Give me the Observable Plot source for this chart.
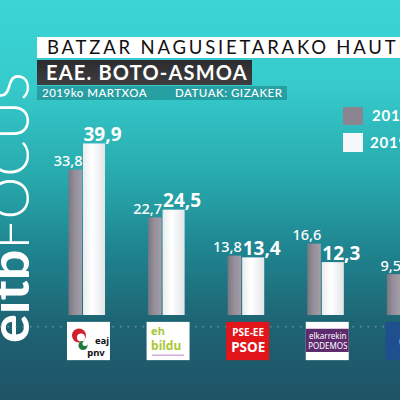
<!DOCTYPE html>
<html><head><meta charset="utf-8">
<script src="https://cdn.jsdelivr.net/npm/d3@7"></script>
<script src="https://cdn.jsdelivr.net/npm/@observablehq/plot@0.6"></script>
<style>
html,body{margin:0;padding:0;width:400px;height:400px;overflow:hidden;background:#1f5a6a;}
#wrap{position:relative;width:400px;height:400px;overflow:hidden;
  background:linear-gradient(180deg,#3bd5d5 0%,#36cacb 22%,#27a8ac 45%,#1f8590 62%,#1e6574 80%,#1d5265 100%);
  font-family:Lato,"Open Sans",sans-serif;}
#chart{position:absolute;left:0;top:0;}
.t1{position:absolute;left:37px;top:37px;width:380px;height:21px;background:#fff;color:#111;
  font-size:18.5px;line-height:21px;letter-spacing:2.8px;padding-left:10px;white-space:nowrap;overflow:hidden;box-sizing:border-box;}
.t2{position:absolute;left:37px;top:60px;width:215px;height:25px;background:linear-gradient(180deg,#2c2c2e,#3e3e40);color:#fff;
  font-size:20px;font-weight:bold;line-height:25px;letter-spacing:1.2px;padding-left:9px;box-sizing:border-box;white-space:nowrap;}
.t3{position:absolute;left:37px;top:86px;width:250px;height:14px;background:rgba(25,125,132,0.55);color:#fff;
  font-size:11.5px;line-height:14px;letter-spacing:0.5px;white-space:nowrap;font-weight:500;}
.t3 span{position:absolute;top:0;}
.leg{position:absolute;left:343px;width:20px;height:18px;}
.legt{position:absolute;color:#fff;font-weight:bold;font-size:15px;letter-spacing:0.8px;}
</style></head>
<body>
<div id="wrap">
  <div id="chart"></div>
  <div class="t1" id="title"></div>
  <div class="t2" id="subtitle"></div>
  <div class="t3"><span id="date" style="left:5px"></span><span id="source" style="left:138px"></span></div>
  <div class="leg" style="top:107px;background:#8a8591"></div>
  <div class="legt" style="left:372px;top:106px" id="l0"></div>
  <div class="leg" style="top:133px;background:#f6f7f8;height:19px"></div>
  <div class="legt" style="left:370px;top:133px" id="l1"></div>
</div>
<script>
const titleText = "BATZAR NAGUSIETARAKO HAUTESKUNDEAK";
const subtitleText = "EAE. BOTO-ASMOA";
const dateText = "2019ko MARTXOA";
const sourceText = "DATUAK: GIZAKER";
const years = ["2015", "2019"];
const parties = ["EAJ-PNV", "EH Bildu", "PSE-EE", "Elkarrekin Podemos", "PP"];
const votes2015 = [33.8, 22.7, 13.8, 16.6, 9.5];
const votes2019 = [39.9, 24.5, 13.4, 12.3, null];

document.getElementById("title").textContent = titleText;
document.getElementById("subtitle").textContent = subtitleText;
document.getElementById("date").textContent = dateText;
document.getElementById("source").textContent = sourceText;
document.getElementById("l0").textContent = years[0];
document.getElementById("l1").textContent = years[1];

const fmt = v => v.toFixed(1).replace(".", ",");
const rows15 = parties.map((p, i) => ({party: p, i, value: votes2015[i]})).filter(d => d.value != null);
const rows19 = parties.map((p, i) => ({party: p, i, value: votes2019[i]})).filter(d => d.value != null);
const logos = parties.map((p, i) => ({party: p, i}));
const only = name => logos.filter(d => d.party === name);

// logo box vertical extent (in y units, below baseline)
const LT = -1.6, LB = -10.5, LM = (LT + LB) / 2;
const lx1 = d => d.i + 0.075 - 0.27, lx2 = d => d.i + 0.075 + 0.27, lc = d => d.i + 0.075;

const plot = Plot.plot({
  width: 400, height: 400,
  marginLeft: 0, marginRight: 0, marginTop: 0, marginBottom: 0,
  x: {domain: [0, 4], range: [82.5, 400.9], axis: null},
  y: {domain: [0, 50], range: [315, 100], axis: null},
  style: {background: "transparent", overflow: "hidden"},
  marks: [
    Plot.ruleY([-2.6], {stroke: "#9fc7cc", strokeOpacity: 0.5, strokeDasharray: "1.5,6", strokeWidth: 1.5}),
    Plot.rect(rows15, {x1: d => d.i - 0.176, x2: d => d.i - 0.006, y1: 0, y2: "value", fill: "url(#gGray)"}),
    Plot.rect(rows19, {x1: d => d.i + 0.006, x2: d => d.i + 0.283, y1: 0, y2: "value", fill: "url(#gWhite)"}),
    Plot.text(rows15, {x: d => d.i - 0.006, y: "value", text: d => fmt(d.value), textAnchor: "end", lineAnchor: "bottom", dy: -4, fill: "#fff", fontSize: 14.5, fontWeight: 500}),
    Plot.text(rows19, {x: d => d.i + 0.006, y: "value", text: d => fmt(d.value), textAnchor: "start", lineAnchor: "bottom", dy: -3, fill: "#fff", fontSize: 19, fontWeight: "bold"}),
    // logo backgrounds
    Plot.rect(logos, {x1: lx1, x2: lx2, y1: LT, y2: LB, fill: d => ({"PSE-EE": "#e2151b", "PP": "#1f4f8f"})[d.party] || "#ffffff"}),
    // podemos band
    Plot.rect(only("Elkarrekin Podemos"), {x1: lx1, x2: lx2, y1: LT - 1.6, y2: LB + 1.9, fill: "#5e2a6e"}),
    // PNV swirl approximation
    Plot.dot(only("EAJ-PNV"), {x: lc, y: LM, dx: -10, dy: -6, r: 7, fill: "#d0202a"}),
    Plot.dot(only("EAJ-PNV"), {x: lc, y: LM, dx: -8, dy: -4, r: 4, fill: "#ffffff"}),
    Plot.dot(only("EAJ-PNV"), {x: lc, y: LM, dx: -6, dy: 4, r: 4.5, fill: "#1e7a3c"}),
    Plot.dot(only("EAJ-PNV"), {x: lc, y: LM, dx: -4, dy: 2, r: 2.5, fill: "#ffffff"}),
    Plot.text(only("EAJ-PNV"), {x: lc, y: LM, dx: 13, dy: -1, text: () => "eaj", fill: "#111", fontSize: 9.5, fontWeight: "bold"}),
    Plot.text(only("EAJ-PNV"), {x: lc, y: LM, dx: 7, dy: 11, text: () => "pnv", fill: "#111", fontSize: 9.5, fontWeight: "bold"}),
    Plot.text(only("EH Bildu"), {x: lx1, y: LM, dx: 4, dy: -10, text: () => "eh", fill: "#a9c83a", fontSize: 11, fontWeight: "bold", textAnchor: "start"}),
    Plot.text(only("EH Bildu"), {x: lx1, y: LM, dx: 4, dy: 5, text: () => "bildu", fill: "#a9c83a", fontSize: 12, fontWeight: "bold", textAnchor: "start"}),
    Plot.rect(only("EH Bildu"), {x1: d => lc(d) - 0.2, x2: d => lc(d) + 0.2, y1: LB + 1.3, y2: LB + 1.0, fill: "#c9a0d8"}),
    Plot.text(only("PSE-EE"), {x: lc, y: LM, dy: -9, text: () => "PSE-EE", fill: "#fff", fontSize: 10, fontWeight: "bold"}),
    Plot.text(only("PSE-EE"), {x: lc, y: LM, dy: 6, text: () => "PSOE", fill: "#fff", fontSize: 13.5, fontWeight: "bold"}),
    Plot.text(only("Elkarrekin Podemos"), {x: lc, y: LM, dy: -5, text: () => "elkarrekin", fill: "#fff", fontSize: 8}),
    Plot.text(only("Elkarrekin Podemos"), {x: lc, y: LM, dy: 5, text: () => "PODEMOS", fill: "#fff", fontSize: 8}),
    Plot.text(only("PP"), {x: lc, y: LM, dx: -8, text: () => "(pp", fill: "#fff", fontSize: 10, fontWeight: "bold", textAnchor: "start"})
  ]
});
// gradients for cylinder-like bars
const svg = d3.select(plot);
const defs = svg.insert("defs", ":first-child");
const gg = defs.append("linearGradient").attr("id", "gGray").attr("x1", 0).attr("x2", 1).attr("y1", 0).attr("y2", 0);
gg.append("stop").attr("offset", "0%").attr("stop-color", "#7a7680");
gg.append("stop").attr("offset", "45%").attr("stop-color", "#948f9a");
gg.append("stop").attr("offset", "100%").attr("stop-color", "#a29ea7");
const gw = defs.append("linearGradient").attr("id", "gWhite").attr("x1", 0).attr("x2", 1).attr("y1", 0).attr("y2", 0);
gw.append("stop").attr("offset", "0%").attr("stop-color", "#e9ecee");
gw.append("stop").attr("offset", "40%").attr("stop-color", "#ffffff");
gw.append("stop").attr("offset", "100%").attr("stop-color", "#e2e5e8");
// eitb FOCUS brand, vertical
const brand = svg.insert("text", "g").attr("transform", "translate(29,343) rotate(-90)")
  .attr("text-anchor", "start").attr("fill", "#fff").attr("font-size", 54).attr("font-family", "Lato, sans-serif");
brand.append("tspan").attr("font-weight", "bold").text("eitb");
brand.append("tspan").attr("font-weight", 300).attr("letter-spacing", 0).text("FOCUS");
document.getElementById("chart").appendChild(plot);
</script>
</body></html>
